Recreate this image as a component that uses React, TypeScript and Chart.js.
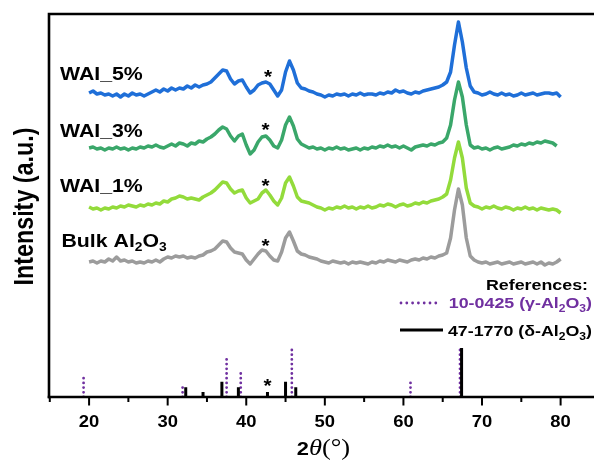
import React, { useEffect, useRef } from 'react';
import { Chart, registerables } from 'chart.js';

Chart.register(...registerables);

// 2θ grid (degrees)
const TWO_THETA = [
  20, 20.5, 21, 21.5, 22, 22.5, 23, 23.5, 24, 24.5,
  25, 25.5, 26, 26.5, 27, 27.5, 28, 28.5, 29, 29.5,
  30, 30.5, 31, 31.5, 32, 32.5, 33, 33.5, 34, 34.5,
  35, 35.5, 36, 36.5, 37, 37.5, 38, 38.5, 39, 39.5,
  40, 40.5, 41, 41.5, 42, 42.5, 43, 43.5, 44, 44.5,
  45, 45.5, 46, 46.5, 47, 47.5, 48, 48.5, 49, 49.5,
  50, 50.5, 51, 51.5, 52, 52.5, 53, 53.5, 54, 54.5,
  55, 55.5, 56, 56.5, 57, 57.5, 58, 58.5, 59, 59.5,
  60, 60.5, 61, 61.5, 62, 62.5, 63, 63.5, 64, 64.5,
  65, 65.5, 66, 66.5, 67, 67.5, 68, 68.5, 69, 69.5,
  70, 70.5, 71, 71.5, 72, 72.5, 73, 73.5, 74, 74.5,
  75, 75.5, 76, 76.5, 77, 77.5, 78, 78.5, 79, 79.5,
  80,
];

// Relative intensities (a.u.) of each pattern
const WAI_5 = [
  4, 6, 3, 4, 2, 3, 1, 3, 0, 3,
  1, 4, 2, 3, 1, 3, 5, 7, 5, 8,
  6, 9, 7, 9, 8, 11, 9, 12, 10, 12,
  13, 15, 19, 23, 27, 26, 18, 13, 16, 17,
  10, 4, 7, 12, 14, 15, 13, 7, 1, 7,
  25, 36, 27, 14, 9, 8, 6, 5, 3, 2,
  0, 2, 1, 3, 2, 3, 1, 3, 2, 4,
  2, 3, 3, 2, 4, 3, 5, 4, 7, 5,
  6, 4, 3, 5, 4, 6, 7, 8, 9, 10,
  12, 15, 25, 52, 75, 55, 29, 11, 5, 4,
  2, 3, 5, 3, 2, 4, 2, 3, 1, 2,
  4, 2, 3, 4, 2, 3, 4, 4, 3, 4,
  0,
];
const WAI_3 = [
  4, 5, 3, 4, 2, 4, 3, 5, 3, 4,
  2, 4, 3, 5, 4, 6, 5, 7, 5, 4,
  6, 8, 6, 9, 8, 6, 9, 8, 11, 10,
  13, 15, 18, 22, 25, 23, 16, 11, 16, 18,
  7, -2, 2, 10, 15, 16, 12, 6, 4, 12,
  27, 35, 26, 13, 8, 6, 4, 5, 3, 4,
  2, 4, 3, 5, 3, 4, 2, 3, 4, 2,
  4, 3, 5, 4, 6, 5, 7, 5, 6, 4,
  6, 4, 2, 5, 6, 7, 6, 8, 7, 9,
  10, 14, 27, 52, 70, 55, 27, 7, 4, 5,
  3, 4, 2, 4, 5, 3, 4, 5, 7, 6,
  8, 7, 9, 8, 10, 9, 11, 10, 9, 6,
];
const WAI_1 = [
  5, 3, 4, 2, 4, 3, 5, 4, 6, 5,
  7, 6, 5, 7, 6, 8, 7, 9, 8, 11,
  10, 13, 14, 16, 15, 13, 14, 13, 12, 15,
  17, 19, 22, 26, 30, 29, 23, 19, 21, 22,
  14, 9, 11, 13, 19, 22, 17, 11, 7, 14,
  29, 35, 26, 15, 11, 10, 9, 7, 5, 4,
  2, 4, 3, 5, 4, 6, 4, 5, 3, 5,
  4, 6, 4, 5, 7, 6, 8, 7, 5, 7,
  8, 6, 7, 9, 8, 10, 9, 11, 12, 13,
  15, 18, 32, 54, 70, 54, 24, 9, 6, 5,
  3, 5, 4, 6, 4, 3, 5, 4, 2, 4,
  3, 5, 3, 4, 2, 4, 3, 2, 3, 2,
  -1,
];
const BULK = [
  4, 5, 3, 5, 4, 7, 5, 9, 5, 6,
  4, 5, 3, 4, 3, 5, 4, 6, 4, 7,
  9, 8, 10, 9, 10, 8, 9, 8, 10, 11,
  14, 15, 17, 21, 25, 24, 18, 14, 13, 12,
  6, 2, 7, 12, 16, 15, 10, 6, 5, 14,
  28, 34, 25, 15, 12, 11, 9, 8, 7, 5,
  4, 3, 5, 4, 3, 4, 2, 4, 3, 4,
  3, 2, 4, 3, 5, 4, 6, 5, 4, 6,
  5, 4, 6, 7, 6, 8, 7, 9, 8, 10,
  11, 13, 28, 56, 77, 61, 28, 10, 6, 4,
  3, 4, 2, 3, 4, 2, 3, 4, 2, 3,
  4, 2, 3, 4, 2, 4, 1, 3, 2, 4,
  7,
];

// Vertical stacking offsets of the patterns (a.u.)
const OFFSET_WAI_5 = 300;
const OFFSET_WAI_3 = 245;
const OFFSET_WAI_1 = 185;
const OFFSET_BULK = 131;

// Reference cards: positions (2θ) and relative intensities (%)
const GAMMA_POS = [19.3, 31.9, 37.5, 39.3, 45.8, 60.9, 67.2];
const GAMMA_INT = [41, 20, 79, 49, 100, 29, 100];
const DELTA_POS = [32.3, 34.5, 36.9, 39.0, 42.7, 45.0, 46.3, 67.4];
const DELTA_INT = [20, 10, 31, 20, 10, 31, 20, 100];

const X_TICK_LABELS = [20, 30, 40, 50, 60, 70, 80];
const X_TICK_MARKS = [15, 20, 25, 30, 35, 40, 45, 50, 55, 60, 65, 70, 75, 80];

const STICK_FULL = 49; // a.u. height of a 100% reference line
const STAR_POS = 42.7;

const SX = 1.15;
const SANS = "'Liberation Sans', Arial, sans-serif";
const SERIF = "'Liberation Serif', 'Times New Roman', serif";
const PURPLE = '#7030A0';

type Run = { t: string; font: string; dy?: number; color?: string };

function drawRuns(ctx: CanvasRenderingContext2D, runs: Run[], x: number, y: number, align: 'left' | 'right' | 'center', color = '#000') {
  let total = 0;
  const widths = runs.map((r) => {
    ctx.font = r.font;
    const w = ctx.measureText(r.t).width * SX;
    total += w;
    return w;
  });
  let cx = align === 'right' ? x - total : align === 'center' ? x - total / 2 : x;
  runs.forEach((r, i) => {
    ctx.save();
    ctx.translate(cx, y + (r.dy || 0));
    ctx.scale(SX, 1);
    ctx.font = r.font;
    ctx.fillStyle = r.color || color;
    ctx.textAlign = 'left';
    ctx.textBaseline = 'alphabetic';
    ctx.fillText(r.t, 0, 0);
    ctx.restore();
    cx += widths[i];
  });
}

const decorPlugin = {
  id: 'decor',
  afterDraw(chart: any) {
    const ctx: CanvasRenderingContext2D = chart.ctx;
    const { left, right, top, bottom } = chart.chartArea;
    const xs = chart.scales.x;
    ctx.save();
    ctx.strokeStyle = '#000';
    ctx.lineWidth = 2.6;
    ctx.lineCap = 'butt';
    ctx.beginPath();
    ctx.moveTo(left, bottom + 1.3);
    ctx.lineTo(left, top);
    ctx.lineTo(right + 2, top);
    ctx.stroke();
    ctx.beginPath();
    ctx.moveTo(left - 1.3, bottom);
    ctx.lineTo(right + 2, bottom);
    ctx.stroke();

    // tick marks
    ctx.lineWidth = 2;
    X_TICK_MARKS.forEach((v) => {
      const px = xs.getPixelForValue(v);
      const len = v % 10 === 0 ? 8.5 : 5;
      ctx.beginPath();
      ctx.moveTo(px, bottom);
      ctx.lineTo(px, bottom + len);
      ctx.stroke();
    });

    // tick labels
    const tickFont = `bold 16px ${SANS}`;
    X_TICK_LABELS.forEach((v) => {
      drawRuns(ctx, [{ t: String(v), font: tickFont }], xs.getPixelForValue(v), bottom + 29.5, 'center');
    });

    // x title
    drawRuns(
      ctx,
      [
        { t: '2', font: `bold 19px ${SANS}` },
        { t: 'θ', font: `italic 23px ${SERIF}` },
        { t: '(°)', font: `23px ${SERIF}` },
      ],
      (left + right) / 2 + 2,
      455,
      'center'
    );

    // y title
    ctx.save();
    ctx.translate(33, (top + bottom) / 2 + 1);
    ctx.rotate(-Math.PI / 2);
    ctx.scale(1, SX);
    ctx.font = `bold 23.3px ${SANS}`;
    ctx.fillStyle = '#000';
    ctx.textAlign = 'center';
    ctx.textBaseline = 'alphabetic';
    ctx.fillText('Intensity (a.u.)', 0, 0);
    ctx.restore();

    // sample labels
    const lf = `bold 18.5px ${SANS}`;
    const sf = `bold 12px ${SANS}`;
    drawRuns(ctx, [{ t: 'WAI_5%', font: lf }], 60, 80, 'left');
    drawRuns(ctx, [{ t: 'WAI_3%', font: lf }], 60, 136.5, 'left');
    drawRuns(ctx, [{ t: 'WAI_1%', font: lf }], 60, 191.5, 'left');
    drawRuns(
      ctx,
      [
        { t: 'Bulk Al', font: lf },
        { t: '2', font: sf, dy: 4.5 },
        { t: 'O', font: lf },
        { t: '3', font: sf, dy: 4.5 },
      ],
      61.5,
      246.5,
      'left'
    );

    // stars
    const starFont = `bold 18px ${SANS}`;
    const sx = xs.getPixelForValue(STAR_POS);
    [
      [sx + 0.5, 72.5],
      [sx - 2, 126],
      [sx - 2, 181.5],
      [sx - 2, 241.5],
      [sx, 382],
    ].forEach(([x, yc]) => {
      drawRuns(ctx, [{ t: '*', font: starFont }], x, yc + 10.4, 'center');
    });

    // legend
    const gf = `bold 15.5px ${SANS}`;
    const gsf = `bold 10.5px ${SANS}`;
    drawRuns(ctx, [{ t: 'References:', font: gf }], 588, 290, 'right');
    drawRuns(
      ctx,
      [
        { t: '10-0425 (γ-Al', font: gf },
        { t: '2', font: gsf, dy: 4 },
        { t: 'O', font: gf },
        { t: '3', font: gsf, dy: 4 },
        { t: ')', font: gf },
      ],
      592,
      308,
      'right',
      PURPLE
    );
    drawRuns(
      ctx,
      [
        { t: '47-1770 (δ-Al', font: gf },
        { t: '2', font: gsf, dy: 4 },
        { t: 'O', font: gf },
        { t: '3', font: gsf, dy: 4 },
        { t: ')', font: gf },
      ],
      592,
      336,
      'right'
    );
    // legend lines
    ctx.strokeStyle = PURPLE;
    ctx.lineWidth = 2.8;
    ctx.lineCap = 'round';
    ctx.setLineDash([0, 5.8]);
    ctx.beginPath();
    ctx.moveTo(401, 303);
    ctx.lineTo(441, 303);
    ctx.stroke();
    ctx.setLineDash([]);
    ctx.lineCap = 'butt';
    ctx.strokeStyle = '#000';
    ctx.lineWidth = 3;
    ctx.beginPath();
    ctx.moveTo(400, 330);
    ctx.lineTo(443, 330);
    ctx.stroke();
    ctx.restore();
  },
};

function curve(values: number[], offset: number) {
  return values.map((v, i) => ({ x: TWO_THETA[i], y: v + offset }));
}

function sticks(pos: number[], ints: number[]) {
  const out: { x: number; y: number | null }[] = [];
  pos.forEach((p, i) => {
    out.push({ x: p, y: 0 });
    out.push({ x: p, y: (ints[i] / 100) * STICK_FULL });
    out.push({ x: p, y: null });
  });
  return out;
}

export default function App() {
  const ref = useRef<HTMLCanvasElement>(null);
  useEffect(() => {
    const lineStyle = { borderWidth: 3.5, pointRadius: 0, tension: 0, borderJoinStyle: 'round' as const, fill: false };
    const chart = new Chart(ref.current!, {
      type: 'line',
      data: {
        datasets: [
          { label: 'WAI_5%', data: curve(WAI_5, OFFSET_WAI_5), borderColor: '#1F6FD8', ...lineStyle },
          { label: 'WAI_3%', data: curve(WAI_3, OFFSET_WAI_3), borderColor: '#3AA76A', ...lineStyle },
          { label: 'WAI_1%', data: curve(WAI_1, OFFSET_WAI_1), borderColor: '#93DB3B', ...lineStyle },
          { label: 'Bulk Al2O3', data: curve(BULK, OFFSET_BULK), borderColor: '#9C9C9C', ...lineStyle },
          {
            label: '47-1770 (δ-Al2O3)',
            data: sticks(DELTA_POS, DELTA_INT),
            borderColor: '#000',
            borderWidth: 3,
            pointRadius: 0,
            spanGaps: false,
            borderCapStyle: 'butt',
          },
          {
            label: '10-0425 (γ-Al2O3)',
            data: sticks(GAMMA_POS, GAMMA_INT),
            borderColor: PURPLE,
            borderWidth: 2.8,
            pointRadius: 0,
            spanGaps: false,
            borderDash: [0, 4.7],
            borderCapStyle: 'round',
          },
        ],
      },
      options: {
        responsive: false,
        animation: false,
        devicePixelRatio: 1,
        layout: { padding: { left: 49, top: 14, right: 0, bottom: 63 } },
        plugins: { legend: { display: false }, tooltip: { enabled: false } },
        scales: {
          x: { type: 'linear', display: false, min: 14.9, max: 84.25 },
          y: { type: 'linear', display: false, min: 0, max: 383 },
        },
      },
      plugins: [decorPlugin],
    } as any);
    return () => chart.destroy();
  }, []);
  return (
    <div style={{ position: 'fixed', left: 0, top: 0, width: 594, height: 460, background: '#fff' }}>
      <canvas ref={ref} width={594} height={460} style={{ display: 'block', width: 594, height: 460 }} />
    </div>
  );
}
